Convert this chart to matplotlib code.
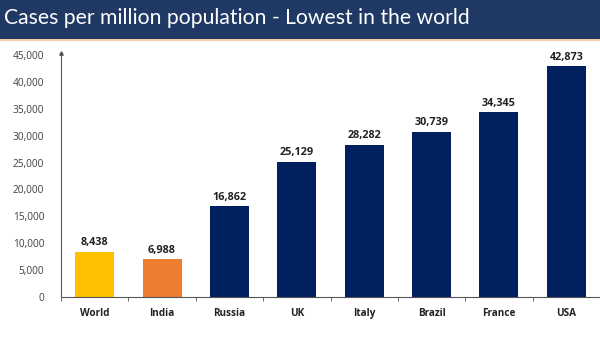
import matplotlib.pyplot as plt
import numpy as np

countries = ['World', 'India', 'Russia', 'UK', 'Italy', 'Brazil', 'France', 'USA']
cases = [8438, 6988, 16862, 25129, 28282, 30739, 34345, 42873]
colors = ['#FFC000', '#ED7D31'] + ['#002060'] * 6
yticks = list(range(0, 45001, 5000))

plt.rcParams['font.family'] = ['Open Sans', 'DejaVu Sans']

fig = plt.figure(figsize=(6, 3.38), dpi=100)
fig.patch.set_facecolor('white')

# title bar
fig.patches.append(plt.Rectangle((0, 1 - 39/338), 1, 39/338, transform=fig.transFigure,
                                 facecolor='#1F3864', edgecolor='none', zorder=0))
fig.patches.append(plt.Rectangle((0, 1 - 41/338), 1, 2/338, transform=fig.transFigure,
                                 facecolor='#F8CBAD', edgecolor='none', zorder=0))
fig.text(0.006, 1 - 18/338, 'Cases per million population - Lowest in the world',
         color='white', fontsize=15.2, family=['Lato', 'DejaVu Sans'], va='center', ha='left')

ax = fig.add_axes([61/600, 1 - 297/338, 1 - 61/600, (297 - 55)/338])
x = np.arange(len(countries))
bars = ax.bar(x, cases, width=0.58, color=colors, zorder=2)
for xi, v in zip(x, cases):
    ax.text(xi, v + 700, f'{v:,}', ha='center', va='bottom', fontsize=7.8,
            fontweight='bold', color='#222222')

ax.set_xlim(-0.5, 7.5)
ax.set_ylim(0, 45000)
ax.set_yticks(yticks)
ax.set_yticklabels([f'{t:,}' for t in yticks], fontsize=7.3, color='#404040')
ax.set_xticks(x)
ax.set_xticklabels(countries, fontsize=7.2, fontweight='bold', color='#222222')
ax.set_xticks(np.arange(-0.5, 8, 1), minor=True)
ax.tick_params(axis='x', which='major', length=0, pad=8)
ax.tick_params(axis='x', which='minor', length=3, color='#555555', direction='out')
ax.tick_params(axis='y', length=0, pad=12)
for s in ['top', 'right']:
    ax.spines[s].set_visible(False)
ax.spines['left'].set_color('#555555')
ax.spines['bottom'].set_color('#555555')
ax.spines['left'].set_bounds(0, 45300)
ax.plot([-0.5], [45300], marker='^', markersize=2.5, color='#555555', clip_on=False)

plt.savefig('out.png', dpi=100)
